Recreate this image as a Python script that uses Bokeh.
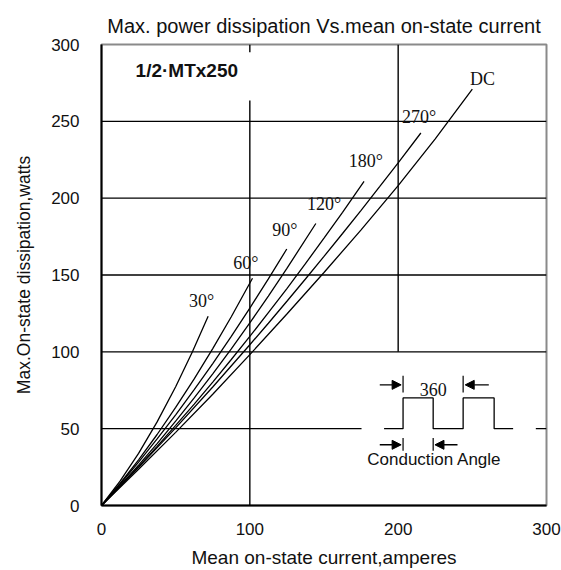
from bokeh.plotting import figure
from bokeh.models import Range1d, FixedTicker, Arrow, NormalHead
from bokeh.core.properties import value
from bokeh.embed import file_html
from bokeh.resources import INLINE

# Mean on-state current (A) vs. max. on-state dissipation (W), one pair per conduction angle
i_30 = [0, 12.5, 25, 37.5, 50, 61.3, 71.9]
p_30 = [0, 15.8, 33.9, 54.4, 77.3, 100, 123.1]

i_60 = [0, 12.5, 25, 37.5, 50, 62.5, 75, 87.5, 101.8]
p_60 = [0, 14.3, 29.7, 46.2, 63.8, 82.4, 102.1, 122.8, 147.9]

i_90 = [0, 12.5, 25, 37.5, 50, 62.5, 75, 87.5, 100, 112.5, 124.9]
p_90 = [0, 13.8, 28.2, 43.3, 59.0, 75.4, 92.4, 110.1, 128.5, 147.5, 166.9]

i_120 = [0, 12.5, 25, 37.5, 50, 62.5, 75, 87.5, 100, 112.5, 125, 144.5]
p_120 = [0, 12.9, 26.3, 40.3, 54.9, 70.0, 85.7, 101.9, 118.8, 136.3, 154.3, 183.5]

i_180 = [0, 12.5, 25, 37.5, 50, 62.5, 75, 87.5, 100, 112.5, 125, 137.5, 150, 162.5, 177]
p_180 = [0, 12.5, 25.3, 38.5, 52.1, 66.0, 80.3, 95.0, 110.0, 125.5, 141.2, 157.4, 174.0, 190.8, 210.9]

i_270 = [0, 25, 50, 75, 100, 112.5, 125, 137.5, 150, 162.5, 175, 187.5, 200, 215.3]
p_270 = [0, 24.8, 50.5, 77.1, 104.6, 118.6, 132.9, 147.4, 162.1, 177.0, 192.1, 207.5, 223.0, 242.4]

i_dc = [0, 25, 50, 75, 100, 125, 150, 175, 200, 225, 250]
p_dc = [0, 23.6, 47.6, 72.4, 98.2, 124.6, 151.6, 179.4, 208.2, 238.6, 271.0]

curves = [(i_30, p_30), (i_60, p_60), (i_90, p_90), (i_120, p_120),
          (i_180, p_180), (i_270, p_270), (i_dc, p_dc)]

# curve labels and where they sit
angle_labels = ["30°", "60°", "90°", "120°", "180°", "270°", "DC"]
label_x = [67.5, 97.3, 123.6, 150.1, 178.2, 214.1, 256.9]
label_y = [133.4, 157.6, 179.2, 196.4, 224.5, 252.5, 277.3]

x_ticks = [0, 100, 200, 300]
y_ticks = [0, 50, 100, 150, 200, 250, 300]

SANS = "Liberation Sans"
SERIF = "Liberation Serif"

p = figure(width=561, height=570, output_backend="svg", toolbar_location=None,
           x_range=Range1d(0, 300), y_range=Range1d(0, 300),
           min_border_left=101, min_border_right=15,
           min_border_top=44, min_border_bottom=61,
           title="Max. power dissipation Vs.mean on-state current")

p.title.align = "center"
p.title.text_font = SANS
p.title.text_font_style = "normal"
p.title.text_font_size = "20px"
p.title.text_color = "#111111"
p.title.standoff = 15

p.grid.visible = False
p.outline_line_color = "#8a8a8a"
p.outline_line_width = 2
p.background_fill_color = "white"
p.border_fill_color = "white"

p.xaxis.ticker = FixedTicker(ticks=x_ticks)
p.yaxis.ticker = FixedTicker(ticks=y_ticks)
for ax in (p.xaxis, p.yaxis):
    ax.axis_line_color = "black"
    ax.axis_line_width = 2
    ax.major_tick_line_color = None
    ax.minor_tick_line_color = None
    ax.major_label_text_font = SANS
    ax.major_label_text_font_size = "17px"
    ax.major_label_text_color = "#111111"
    ax.axis_label_text_font = SANS
    ax.axis_label_text_font_style = "normal"
    ax.axis_label_text_color = "#111111"
p.xaxis.axis_label = "Mean on-state current,amperes"
p.yaxis.axis_label = "Max.On-state dissipation,watts"
p.xaxis.axis_label_text_font_size = "19px"
p.yaxis.axis_label_text_font_size = "17.5px"
p.xaxis.major_label_standoff = 11
p.yaxis.major_label_standoff = 16
p.xaxis.axis_label_standoff = 9
p.yaxis.axis_label_standoff = 14

# grid lines, drawn piecewise so they stop short of the labels and the inset sketch
gx0 = [0, 0, 0, 0, 0, 292.8, 100, 100, 200]
gy0 = [250, 200, 150, 100, 50, 50, 300, 263.6, 300]
gx1 = [300, 300, 300, 300, 175.3, 300, 100, 100, 200]
gy1 = [250, 200, 150, 100, 50, 50, 295, 0, 100]
p.segment(gx0, gy0, gx1, gy1, line_color="black", line_width=1.4)

for xs, ys in curves:
    p.line(xs, ys, line_color="black", line_width=1.3)

p.text(label_x, label_y, text=angle_labels, text_font=value(SERIF),
       text_font_size="18px", text_align="center", text_baseline="middle",
       text_color="#111111")

p.text([23], [283.4], text=["1/2·MTx250"], text_font=value(SANS),
       text_font_size="19px", text_font_style="bold",
       text_align="left", text_baseline="middle", text_color="#111111")

# inset: conduction-angle waveform
wave_x = [190.5, 203.3, 203.3, 223.6, 223.6, 243.8, 243.8, 264.7, 264.7, 277.5]
wave_y = [50, 50, 70, 70, 50, 50, 70, 70, 50, 50]
p.line(wave_x, wave_y, line_color="black", line_width=1.3)

# marker ticks
mx0 = [203.3, 243.8, 203.3, 223.6]
my0 = [84.5, 84.5, 44, 44]
mx1 = [203.3, 243.8, 203.3, 223.6]
my1 = [73.5, 73.5, 35.6, 35.6]
p.segment(mx0, my0, mx1, my1, line_color="black", line_width=1.2)

for xs, xe, yy in [(187.6, 202.0, 78.5), (261.1, 245.2, 78.5),
                   (187.6, 202.0, 39.5), (240.0, 224.8, 39.5)]:
    p.add_layout(Arrow(end=NormalHead(size=9, fill_color="black", line_color="black"),
                       x_start=xs, y_start=yy, x_end=xe, y_end=yy,
                       line_color="black", line_width=1.4))

p.text([223.7], [75.7], text=["360"], text_font=value(SERIF), text_font_size="18px",
       text_align="center", text_baseline="middle", text_color="#111111")
p.text([226], [29.8], text=["Conduction  Angle"], text_font=value(SANS),
       text_font_size="17px", text_align="center", text_baseline="middle",
       text_color="#111111")

open("out.html", "w").write(file_html(p, INLINE))
